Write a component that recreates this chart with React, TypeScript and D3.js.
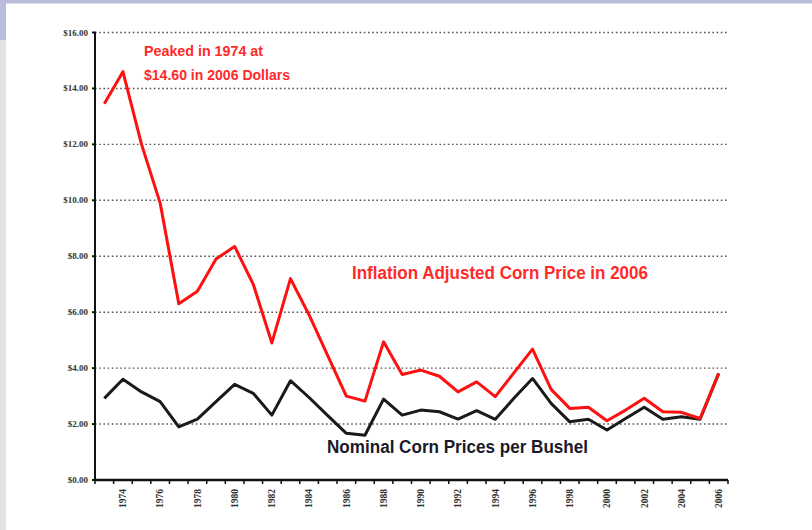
import React from "react";
import * as d3 from "d3";

const years: number[] = [
  1973, 1974, 1975, 1976, 1977, 1978, 1979, 1980, 1981, 1982, 1983, 1984,
  1985, 1986, 1987, 1988, 1989, 1990, 1991, 1992, 1993, 1994, 1995, 1996,
  1997, 1998, 1999, 2000, 2001, 2002, 2003, 2004, 2005, 2006,
];

const adjustedPrice: number[] = [
  13.45, 14.6, 12.0, 9.9, 6.3, 6.75, 7.9, 8.35, 7.0, 4.9, 7.2, 5.9,
  4.45, 3.0, 2.82, 4.94, 3.77, 3.93, 3.71, 3.15, 3.51, 2.98, 3.83, 4.68,
  3.24, 2.56, 2.6, 2.12, 2.5, 2.92, 2.44, 2.42, 2.2, 3.81,
];

const nominalPrice: number[] = [
  2.92, 3.6, 3.15, 2.8, 1.9, 2.18, 2.8, 3.42, 3.1, 2.32, 3.55, 2.95,
  2.3, 1.67, 1.6, 2.89, 2.32, 2.5, 2.44, 2.18, 2.48, 2.17, 2.92, 3.63,
  2.74, 2.08, 2.17, 1.79, 2.2, 2.6, 2.17, 2.26, 2.17, 3.81,
];

const yTicks: number[] = [0, 2, 4, 6, 8, 10, 12, 14, 16];
const labelYears: number[] = [
  1974, 1976, 1978, 1980, 1982, 1984, 1986, 1988, 1990, 1992, 1994, 1996,
  1998, 2000, 2002, 2004, 2006,
];

const peakNote = ["Peaked in 1974 at", "$14.60 in 2006 Dollars"];
const adjustedLabel = "Inflation Adjusted Corn Price in 2006";
const nominalLabel = "Nominal Corn Prices per Bushel";

export default function App() {
  const W = 812;
  const H = 530;
  const left = 95;
  const right = 728;
  const top = 32.5;
  const bottom = 480;

  const x = d3.scaleBand<number>().domain(years).range([left, right]).padding(0);
  const y = d3.scaleLinear().domain([0, 16]).range([bottom, top]);
  const cx = (yr: number) => (x(yr) as number) + x.bandwidth() / 2;

  const line = d3
    .line<number>()
    .x((_, i) => cx(years[i]))
    .y((d) => y(d));

  const fmt = d3.format("$.2f");
  const tickFont = "'Liberation Serif', 'DejaVu Serif', serif";
  const labelFont = "'Liberation Sans', Arial, sans-serif";

  const bandEdges = years.map((yr) => x(yr) as number).concat([right]);

  return (
    <svg
      width={W}
      height={H}
      style={{ position: "absolute", left: 0, top: 0, background: "#ffffff" }}
    >
      <rect x={0} y={0} width={W} height={H} fill="#ffffff" />
      <rect x={0} y={40} width={6} height={H - 40} fill="#e2e2e4" />
      <rect x={0} y={0} width={6} height={40} fill="#b9bdd9" />
      <rect x={0} y={0} width={W} height={3.5} fill="#b9bdd9" />

      {/* gridlines */}
      {yTicks
        .filter((t) => t > 0)
        .map((t) => (
          <line
            key={"g" + t}
            x1={left}
            x2={right}
            y1={y(t)}
            y2={y(t)}
            stroke="#555"
            strokeWidth={1.4}
            strokeDasharray="1.6,2.6"
          />
        ))}

      {/* y ticks and labels */}
      {yTicks.map((t) => (
        <g key={"yt" + t}>
          <line x1={left - 3} x2={left + 1} y1={y(t)} y2={y(t)} stroke="#111" strokeWidth={2} />
          <text
            x={88}
            y={y(t) + 3}
            textAnchor="end"
            fontFamily={tickFont}
            fontWeight="bold"
            fontSize={9}
            fill="#333"
          >
            {fmt(t)}
          </text>
        </g>
      ))}

      {/* x ticks */}
      {bandEdges.map((e, i) => (
        <line key={"xt" + i} x1={e} x2={e} y1={bottom} y2={bottom + 4} stroke="#111" strokeWidth={1.5} />
      ))}

      {/* axes */}
      <line x1={left} x2={left} y1={top} y2={bottom} stroke="#111" strokeWidth={2} />
      <line x1={left - 1} x2={right} y1={bottom} y2={bottom} stroke="#111" strokeWidth={2.5} />

      {/* x labels */}
      {labelYears.map((yr) => (
        <text
          key={"xl" + yr}
          transform={`translate(${cx(yr) + 3.3},${489}) rotate(-90)`}
          textAnchor="end"
          fontFamily={tickFont}
          fontWeight="bold"
          fontSize={9.5}
          fill="#333"
        >
          {yr}
        </text>
      ))}

      {/* lines */}
      <path
        d={line(nominalPrice) || ""}
        fill="none"
        stroke="#1a1a1a"
        strokeWidth={3}
        strokeLinejoin="round"
      />
      <path
        d={line(adjustedPrice) || ""}
        fill="none"
        stroke="#ff1010"
        strokeWidth={3}
        strokeLinejoin="round"
      />

      {/* annotations */}
      <text
        x={144}
        y={56}
        fontFamily={labelFont}
        fontWeight="bold"
        fontSize={14}
        fill="#ff2a2a"
        textLength={119}
        lengthAdjust="spacingAndGlyphs"
      >
        {peakNote[0]}
      </text>
      <text
        x={144}
        y={80}
        fontFamily={labelFont}
        fontWeight="bold"
        fontSize={14}
        fill="#ff2a2a"
        textLength={146}
        lengthAdjust="spacingAndGlyphs"
      >
        {peakNote[1]}
      </text>
      <text
        x={352}
        y={279}
        fontFamily={labelFont}
        fontWeight="bold"
        fontSize={18}
        fill="#ff2a2a"
        textLength={296}
        lengthAdjust="spacingAndGlyphs"
      >
        {adjustedLabel}
      </text>
      <text
        x={327}
        y={453}
        fontFamily={labelFont}
        fontWeight="bold"
        fontSize={18}
        fill="#1a1a2a"
        textLength={261}
        lengthAdjust="spacingAndGlyphs"
      >
        {nominalLabel}
      </text>
    </svg>
  );
}
